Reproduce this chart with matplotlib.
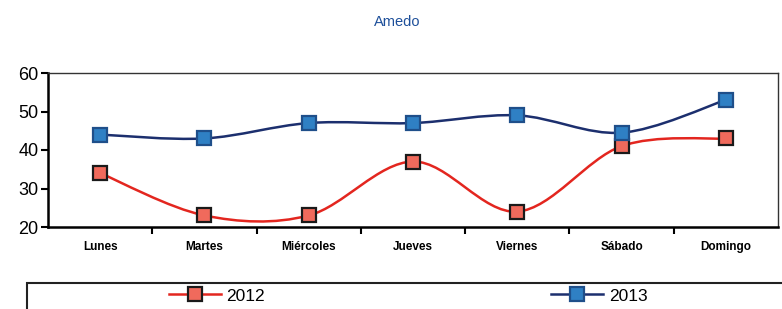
import numpy as np
import matplotlib
matplotlib.use("Agg")
import matplotlib.pyplot as plt
from matplotlib.path import Path
from matplotlib.patches import PathPatch, Rectangle
from matplotlib.lines import Line2D

days = ["Lunes", "Martes", "Miércoles", "Jueves", "Viernes", "Sábado", "Domingo"]
vals_2012 = [34, 23, 23, 37, 24, 41, 43]
vals_2013 = [44, 43, 47, 47, 49, 44.5, 53]
y_ticks = [20, 30, 40, 50, 60]

plt.rcParams['font.family'] = ['Liberation Sans', 'DejaVu Sans']


def smooth_path(xs, ys):
    """Cubic Bezier path through the points (Catmull-Rom style control points)."""
    pts = np.column_stack([xs, ys]).astype(float)
    n = len(pts)
    verts = [pts[0]]
    codes = [Path.MOVETO]
    for i in range(n - 1):
        p0 = pts[i - 1] if i > 0 else pts[i]
        p1 = pts[i]
        p2 = pts[i + 1]
        p3 = pts[i + 2] if i + 2 < n else pts[i + 1]
        c1 = p1 + (p2 - p0) / 6.0
        c2 = p2 - (p3 - p1) / 6.0
        verts += [c1, c2, p2]
        codes += [Path.CURVE4] * 3
    return Path(verts, codes)


fig = plt.figure(figsize=(7.82, 3.09), dpi=100)
ax = fig.add_axes([48 / 782, 1 - 227 / 309, 730 / 782, 154 / 309])

x = np.arange(len(days))
series = [
    (vals_2012, "2012", "#e3261f", "#f06a5c", "#1a1a1a"),
    (vals_2013, "2013", "#1c2f6e", "#2f80c4", "#1f4f8a"),
]
handles = []
for vals, lab, lc, fc, ec in series:
    ax.add_patch(PathPatch(smooth_path(x, vals), facecolor="none",
                           edgecolor=lc, lw=1.8, zorder=2))
    ax.plot(x, vals, ls="none", marker="s", ms=10, mfc=fc, mec=ec, mew=1.6, zorder=3)
    handles.append(Line2D([], [], color=lc, lw=1.8, marker="s", ms=10,
                          mfc=fc, mec=ec, mew=1.6, label=lab))

ax.set_xlim(-0.5, len(days) - 0.5)
ax.set_ylim(20, 60)
ax.set_yticks(y_ticks)
ax.set_yticklabels([str(t) for t in y_ticks], fontsize=13)
ax.set_xticks(x)
ax.set_xticklabels(days, fontsize=8.5, fontweight="bold")
ax.set_xticks(np.arange(0.5, len(days) - 0.5), minor=True)
ax.tick_params(axis="x", which="major", length=0, pad=10)
ax.tick_params(axis="x", which="minor", length=5, width=1.5, direction="out")
ax.tick_params(axis="y", length=5, width=1.5, direction="out", pad=2)
for side in ["left", "bottom"]:
    ax.spines[side].set_linewidth(1.8)
for side in ["top", "right"]:
    ax.spines[side].set_linewidth(1.0)
    ax.spines[side].set_color("#333333")

fig.text(397 / 782, 1 - 22 / 309, "Amedo", ha="center", va="center",
         fontsize=10.5, color="#1d4f9a")

# legend box (cut off by figure edge, as in the reference)
fig.add_artist(Rectangle((27 / 782, -0.1), 1.0, 0.1 + 26 / 309,
                         transform=fig.transFigure, fill=False,
                         edgecolor="#222222", lw=1.5, clip_on=False))
fig.legend(handles=handles, ncol=2, frameon=False, loc="center left",
           bbox_to_anchor=(169 / 782, 1 - 296 / 309), fontsize=12.5,
           handlelength=3.0, handletextpad=0.3, columnspacing=16.5,
           borderpad=0, borderaxespad=0)

fig.savefig("out.png", dpi=100)
